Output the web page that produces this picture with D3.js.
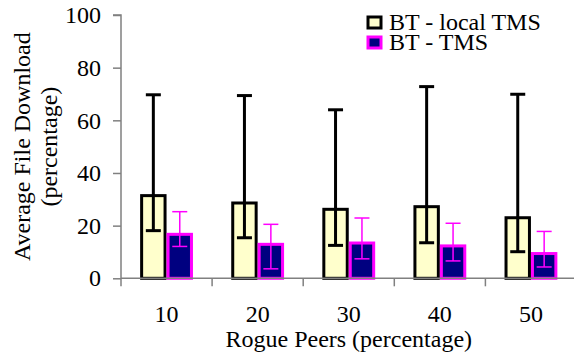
<!DOCTYPE html>
<html><head><meta charset="utf-8">
<script src="https://cdn.jsdelivr.net/npm/d3@7"></script>
<style>html,body{margin:0;padding:0;background:#fff;}svg{display:block;}
svg text{font-family:"Liberation Serif","Times New Roman",Times,"DejaVu Serif",serif;}</style>
</head><body>
<script>
const categories = ["10", "20", "30", "40", "50"];
const seriesNames = ["BT - local TMS", "BT - TMS"];
const localMean = [31.4, 28.6, 26.2, 27.2, 23.0];
const localLow  = [18.1, 15.4, 12.5, 13.5, 10.1];
const localHigh = [69.7, 69.4, 64.0, 72.8, 69.9];
const tmsMean   = [16.7, 12.9, 13.4, 12.3, 9.4];
const tmsLow    = [12.1, 3.6, 7.4, 6.6, 4.3];
const tmsHigh   = [25.3, 20.5, 22.9, 20.9, 17.8];
const yTicks = [0, 20, 40, 60, 80, 100];

const W = 574, H = 356;
const svg = d3.select("body").append("svg").attr("width", W).attr("height", H);

const x0 = 121, x1 = 576.5, yTop = 15, yBot = 278.3;
const x = d3.scaleBand().domain(categories).range([x0, x1]).paddingInner(0.42).paddingOuter(0.21);
const xs = d3.scaleBand().domain(seriesNames).range([0, x.bandwidth()]);
const y = d3.scaleLinear().domain([0, 100]).range([yBot, yTop]);

const styles = [
  {fill: "#FFFFCC", stroke: "#000000", err: "#000000", ew: 3},
  {fill: "#000080", stroke: "#FF00FF", err: "#FF00FF", ew: 1.5}
];
const data = categories.map((c, i) => [
  {cat: c, s: seriesNames[0], m: localMean[i], lo: localLow[i], hi: localHigh[i], st: styles[0]},
  {cat: c, s: seriesNames[1], m: tmsMean[i], lo: tmsLow[i], hi: tmsHigh[i], st: styles[1]}
]).flat();

// bars
svg.append("g").selectAll("rect").data(data).join("rect")
  .attr("x", d => x(d.cat) + xs(d.s) + 1.5)
  .attr("width", xs.bandwidth() - 3)
  .attr("y", d => y(d.m))
  .attr("height", d => y(0) - y(d.m))
  .attr("fill", d => d.st.fill)
  .attr("stroke", d => d.st.stroke)
  .attr("stroke-width", 3);

// error bars
const eg = svg.append("g").selectAll("g").data(data).join("g")
  .attr("stroke", d => d.st.err).attr("stroke-width", d => d.st.ew).attr("fill", "none");
const cx = d => x(d.cat) + xs(d.s) + xs.bandwidth() / 2;
eg.append("line").attr("x1", cx).attr("x2", cx).attr("y1", d => y(d.lo)).attr("y2", d => y(d.hi));
eg.append("line").attr("x1", d => cx(d) - 7.5).attr("x2", d => cx(d) + 7.5).attr("y1", d => y(d.hi)).attr("y2", d => y(d.hi));
eg.append("line").attr("x1", d => cx(d) - 7.5).attr("x2", d => cx(d) + 7.5).attr("y1", d => y(d.lo)).attr("y2", d => y(d.lo));

// y axis
const axisColor = "#808080";
const yAxis = svg.append("g").attr("transform", `translate(${x0},0)`)
  .call(d3.axisLeft(y).tickValues(yTicks).tickSize(8).tickPadding(12));
yAxis.attr("font-family", null).attr("font-size", null);
yAxis.select(".domain").attr("stroke", axisColor).attr("stroke-width", 1.5).attr("d", `M-8,${yTop}H0V${yBot}`);
yAxis.selectAll(".tick line").attr("stroke", axisColor).attr("stroke-width", 1.5);
yAxis.selectAll(".tick text").attr("font-size", 24).attr("fill", "#000");

// x axis
const xAxisG = svg.append("g").attr("transform", `translate(0,${yBot})`);
xAxisG.append("line").attr("x1", x0).attr("x2", x1).attr("y1", 0).attr("y2", 0)
  .attr("stroke", axisColor).attr("stroke-width", 1.5);
const bounds = categories.map(c => x(c) - x.step() * x.paddingInner() / 2).concat([x1]);
bounds[0] = x0;
xAxisG.selectAll("line.tk").data(bounds).join("line").attr("class", "tk")
  .attr("x1", d => d).attr("x2", d => d).attr("y1", 0).attr("y2", 8)
  .attr("stroke", axisColor).attr("stroke-width", 1.5);
xAxisG.selectAll("text").data(categories).join("text")
  .attr("x", d => x(d) + x.bandwidth() / 2).attr("y", 44)
  .attr("text-anchor", "middle").attr("font-size", 24).text(d => d);

// axis titles
svg.append("text").attr("x", (x0 + x1) / 2).attr("y", 347).attr("text-anchor", "middle")
  .attr("font-size", 24).text("Rogue Peers (percentage)");
const yt = svg.append("text").attr("transform", `translate(0,${(yTop + yBot) / 2}) rotate(-90)`)
  .attr("text-anchor", "middle").attr("font-size", 24);
yt.append("tspan").attr("x", 0).attr("y", 30).text("Average File Download");
yt.append("tspan").attr("x", 0).attr("y", 57).text("(percentage)");

// legend
const lg = svg.append("g").selectAll("g").data(seriesNames).join("g")
  .attr("transform", (d, i) => `translate(368,${17 + i * 20})`);
lg.append("rect").attr("width", 13).attr("height", 11)
  .attr("fill", (d, i) => styles[i].fill).attr("stroke", (d, i) => styles[i].stroke).attr("stroke-width", 3);
lg.append("text").attr("x", 21).attr("y", 12.5).attr("font-size", 24).text(d => d);
</script>
</body></html>
